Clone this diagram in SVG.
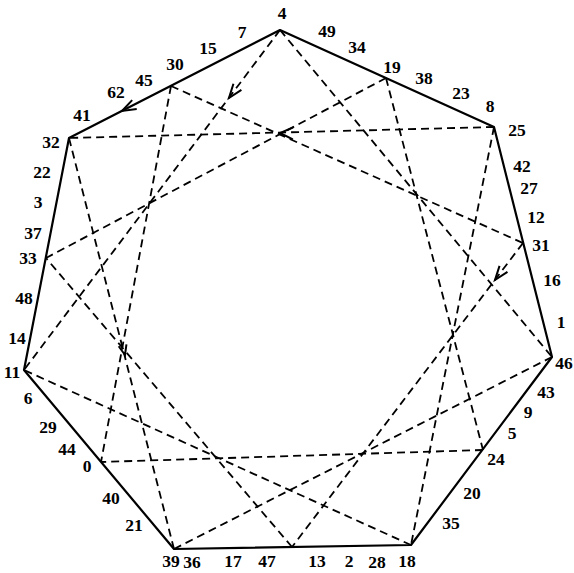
<svg xmlns="http://www.w3.org/2000/svg" width="574" height="573" viewBox="0 0 574 573">
<style>
.edge{fill:none;stroke:#000;stroke-width:2.2;stroke-linejoin:round}
.dash{fill:none;stroke:#000;stroke-width:1.8;stroke-dasharray:8 5}
.arr{fill:none;stroke:#000;stroke-width:2;stroke-linejoin:miter}
text{font-family:"Liberation Serif","DejaVu Serif",serif;font-size:17.5px;font-weight:bold;fill:#000;text-anchor:middle;dominant-baseline:central}
</style>
<rect width="574" height="573" fill="#fff"/>
<g id="connectors">
  <polygon class="edge" points="280,30 494,127 552,357 411,545 174,549 24,370 69,138"/>
  <line class="dash" x1="280" y1="30" x2="24" y2="370"/>
  <line class="dash" x1="280" y1="30" x2="552" y2="357"/>
  <line class="dash" x1="494" y1="127" x2="69" y2="138"/>
  <line class="dash" x1="494" y1="127" x2="411" y2="545"/>
  <line class="dash" x1="552" y1="357" x2="174" y2="549"/>
  <line class="dash" x1="411" y1="545" x2="24" y2="370"/>
  <line class="dash" x1="174" y1="549" x2="69" y2="138"/>
  <line class="dash" x1="171" y1="86" x2="523" y2="243"/>
  <line class="dash" x1="171" y1="86" x2="101" y2="462"/>
  <line class="dash" x1="386" y1="78" x2="46" y2="258"/>
  <line class="dash" x1="386" y1="78" x2="483" y2="450"/>
  <line class="dash" x1="523" y1="243" x2="292" y2="547"/>
  <line class="dash" x1="483" y1="450" x2="101" y2="462"/>
  <line class="dash" x1="292" y1="547" x2="46" y2="258"/>
  <path class="arr" d="M-14,-5 L0,0 L-14,5" transform="translate(229,98) rotate(127)"/>
  <path class="arr" d="M-14,-5 L0,0 L-14,5" transform="translate(122,111) rotate(152.8)"/>
  <path class="arr" d="M-13,-6 L0,0 L-13,6" transform="translate(280,133) rotate(181.3)"/>
  <path class="arr" d="M-14,-5 L0,0 L-14,5" transform="translate(495,280) rotate(127.4)"/>
  <path class="arr" d="M-10,-4 L0,0 L-10,4" transform="translate(125,355) rotate(75.9)"/>
</g>
<g id="n4"><text x="282" y="13">4</text></g>
<g id="n7"><text x="242" y="32">7</text></g>
<g id="n15"><text x="208" y="48">15</text></g>
<g id="n30"><text x="175" y="64">30</text></g>
<g id="n45"><text x="144" y="80">45</text></g>
<g id="n62"><text x="116" y="92">62</text></g>
<g id="n41"><text x="82" y="115">41</text></g>
<g id="n32"><text x="51" y="142">32</text></g>
<g id="n22"><text x="42" y="172">22</text></g>
<g id="n3"><text x="38" y="202">3</text></g>
<g id="n37"><text x="33" y="233">37</text></g>
<g id="n33"><text x="28" y="258">33</text></g>
<g id="n48"><text x="24" y="298">48</text></g>
<g id="n14"><text x="17" y="338">14</text></g>
<g id="n11"><text x="12" y="372">11</text></g>
<g id="n6"><text x="28" y="398">6</text></g>
<g id="n29"><text x="48" y="427">29</text></g>
<g id="n44"><text x="67" y="449">44</text></g>
<g id="n0"><text x="87" y="466">0</text></g>
<g id="n40"><text x="111" y="498">40</text></g>
<g id="n21"><text x="134" y="525">21</text></g>
<g id="n39"><text x="171" y="561">39</text></g>
<g id="n36"><text x="192" y="562">36</text></g>
<g id="n17"><text x="233" y="561">17</text></g>
<g id="n47"><text x="267" y="561">47</text></g>
<g id="n13"><text x="317" y="561">13</text></g>
<g id="n2"><text x="349" y="561">2</text></g>
<g id="n28"><text x="377" y="562">28</text></g>
<g id="n18"><text x="407" y="561">18</text></g>
<g id="n35"><text x="451" y="523">35</text></g>
<g id="n20"><text x="472" y="493">20</text></g>
<g id="n24"><text x="496" y="459">24</text></g>
<g id="n5"><text x="512" y="433">5</text></g>
<g id="n9"><text x="528" y="412">9</text></g>
<g id="n43"><text x="546" y="392">43</text></g>
<g id="n46"><text x="564" y="363">46</text></g>
<g id="n1"><text x="561" y="322">1</text></g>
<g id="n16"><text x="552" y="280">16</text></g>
<g id="n31"><text x="541" y="245">31</text></g>
<g id="n12"><text x="536" y="217">12</text></g>
<g id="n27"><text x="529" y="188">27</text></g>
<g id="n42"><text x="522" y="166">42</text></g>
<g id="n25"><text x="517" y="130">25</text></g>
<g id="n8"><text x="490" y="106">8</text></g>
<g id="n23"><text x="461" y="93">23</text></g>
<g id="n38"><text x="424" y="78">38</text></g>
<g id="n19"><text x="392" y="67">19</text></g>
<g id="n34"><text x="357" y="47">34</text></g>
<g id="n49"><text x="327" y="31">49</text></g>
</svg>
